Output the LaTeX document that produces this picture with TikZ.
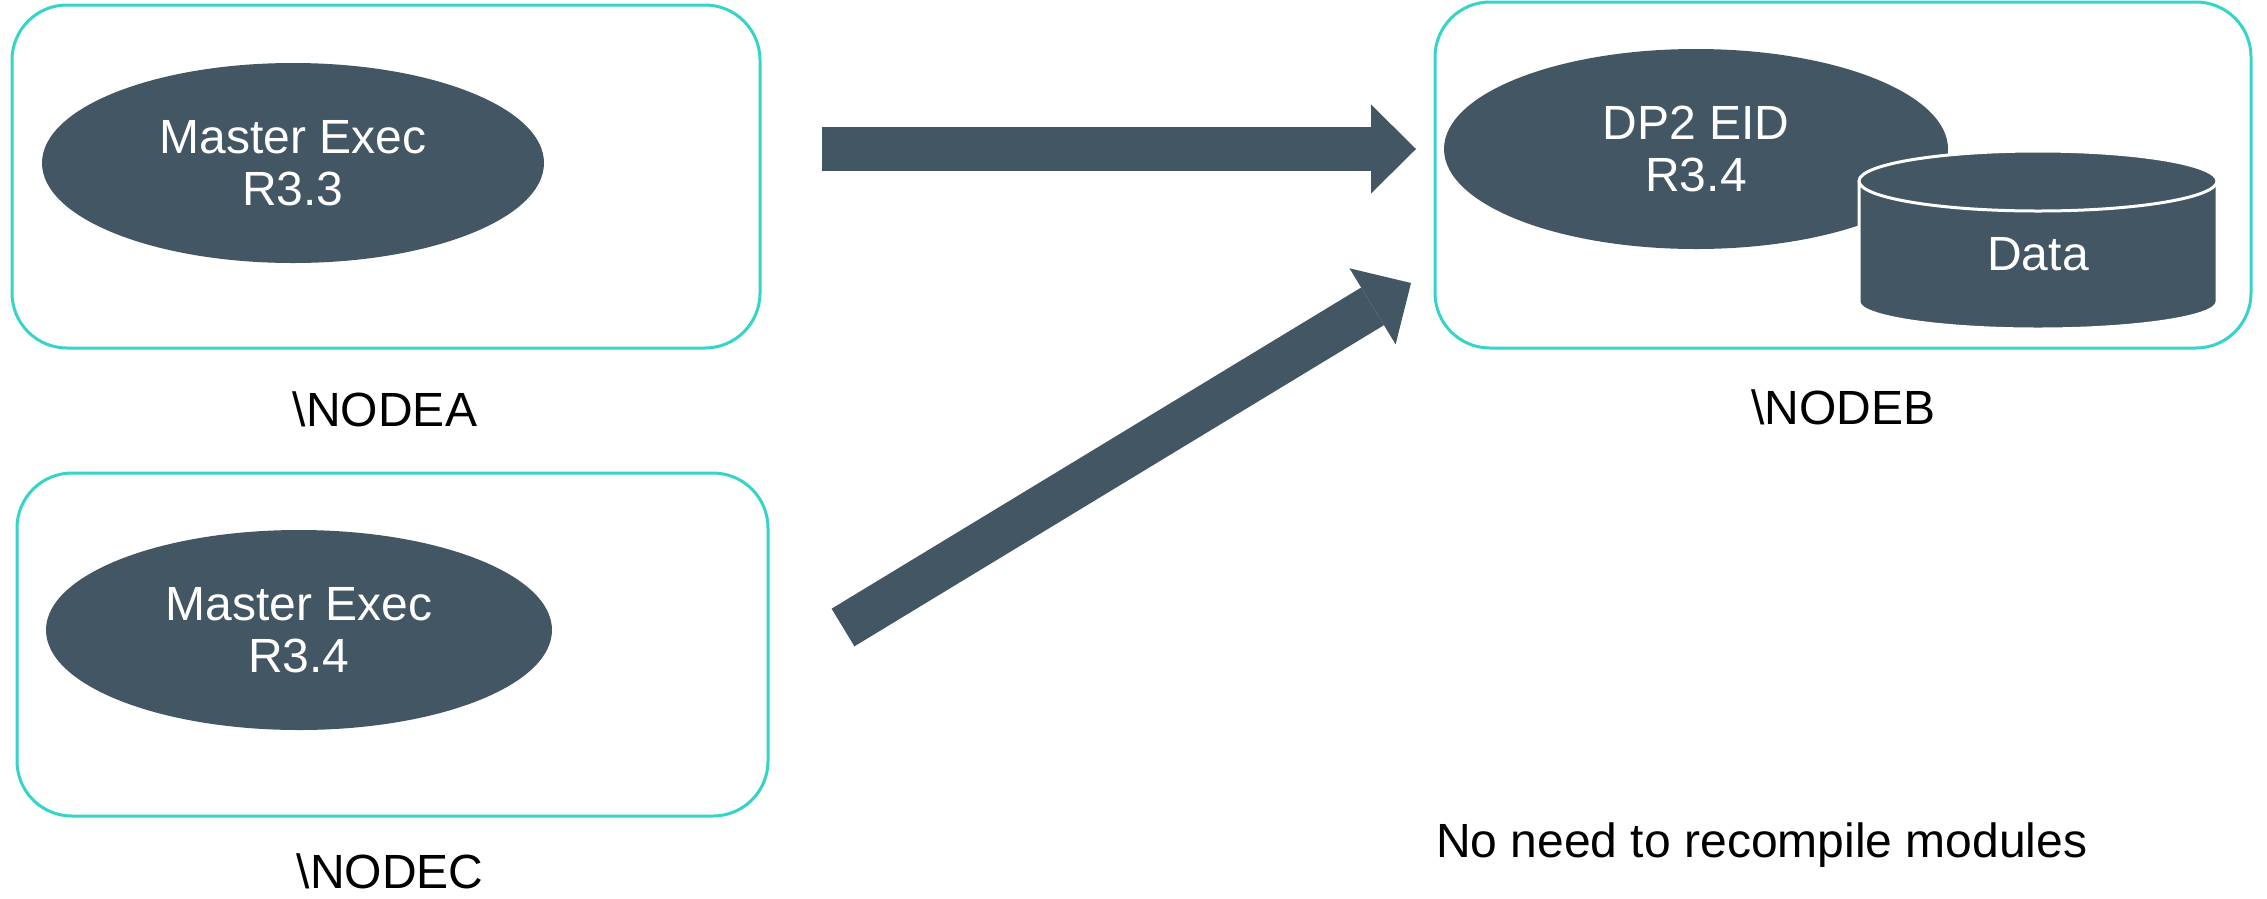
\documentclass[tikz,border=0pt]{standalone}
\usepackage{fontspec}
\setmainfont{Liberation Sans}
\usetikzlibrary{shapes.geometric,arrows.meta}
\definecolor{slate}{HTML}{435663}
\definecolor{frameteal}{HTML}{34D4C8}
\begin{document}
\begin{tikzpicture}[x=1pt,y=-1pt,
  frame/.style={draw=frameteal, line width=3pt, rounded corners=55pt, rectangle, inner sep=0pt},
  blob/.style={ellipse, fill=slate, text=white, inner sep=0pt, align=center, font=\fontsize{48}{52}\selectfont},
  lbl/.style={font=\fontsize{48}{52}\selectfont, inner sep=0pt},
  bigarrow/.style={draw=slate, line width=44pt, -{Triangle[length=45pt,width=89pt,line width=0pt]}}]
\useasboundingbox (0,0) rectangle (2267,898);
% frames
\node[frame, minimum width=748pt, minimum height=343pt] (boxA) at (386,176.5) {};
\node[frame, minimum width=816pt, minimum height=346pt] (boxB) at (1843,175) {};
\node[frame, minimum width=751pt, minimum height=343pt] (boxC) at (392.5,644.5) {};
% ellipses
\node[blob, minimum width=502pt, minimum height=200pt] (execA) at (293,163) {Master Exec\\R3.3};
\node[blob, minimum width=506pt, minimum height=200pt] (execC) at (299,630) {Master Exec\\R3.4};
\node[blob, minimum width=504pt, minimum height=200pt] (dp2) at (1696,149) {DP2 EID\\R3.4};
% cylinder
\path[fill=slate, draw=white, line width=3pt] (1859,181) -- (1859,302)
  arc[start angle=180, end angle=0, x radius=179, y radius=27] -- (2217,181);
\path[fill=slate, draw=white, line width=3pt] (2038,181) ellipse[x radius=179, y radius=30];
\node[lbl, anchor=base, text=white] (data) at (2038,270) {Data};
% labels
\node[lbl, anchor=base] (labA) at (385,426) {\textbackslash NODEA};
\node[lbl, anchor=base] (labB) at (1843,424) {\textbackslash NODEB};
\node[lbl, anchor=base] (labC) at (390,888) {\textbackslash NODEC};
\node[lbl, anchor=base west] (note) at (1436,857) {No need to recompile modules};
% arrows
\coordinate (a1s) at (822,149);
\coordinate (a1e) at (1416,149);
\coordinate (a2s) at (843,627.5);
\coordinate (a2e) at (1411,283);
\draw[bigarrow] (a1s) -- (a1e);
\draw[bigarrow] (a2s) -- (a2e);
\end{tikzpicture}
\end{document}
